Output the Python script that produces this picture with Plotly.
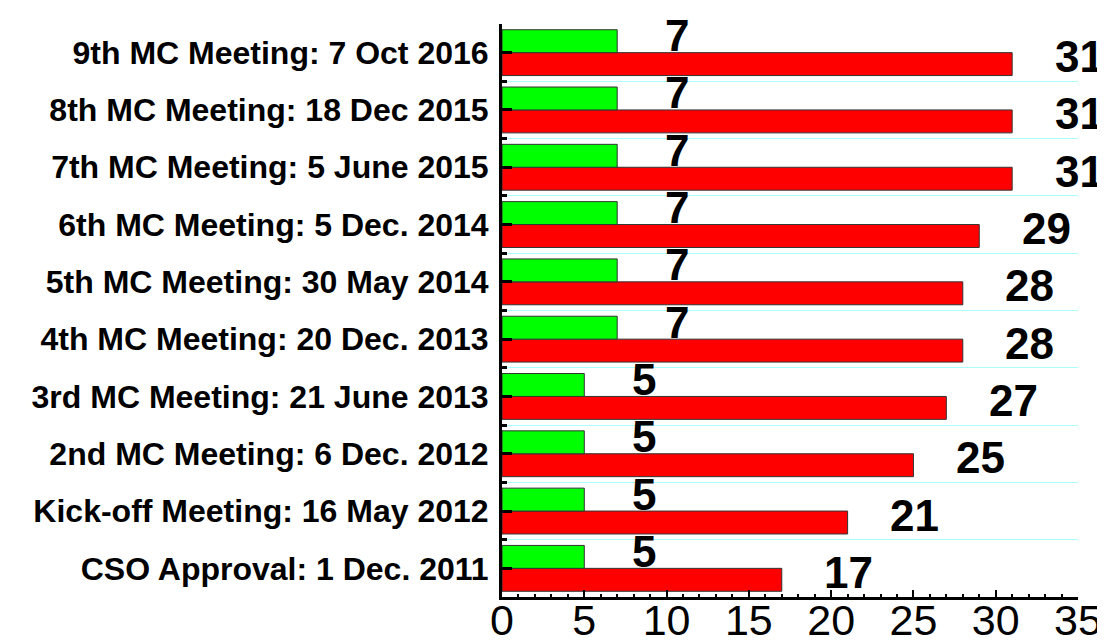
import plotly.graph_objects as go

# Data (bottom to top)
categories = [
    "CSO Approval: 1 Dec. 2011",
    "Kick-off Meeting: 16 May 2012",
    "2nd MC Meeting: 6 Dec. 2012",
    "3rd MC Meeting: 21 June 2013",
    "4th MC Meeting: 20 Dec. 2013",
    "5th MC Meeting: 30 May 2014",
    "6th MC Meeting: 5 Dec. 2014",
    "7th MC Meeting: 5 June 2015",
    "8th MC Meeting: 18 Dec 2015",
    "9th MC Meeting: 7 Oct 2016",
]
red_values = [17, 21, 25, 27, 28, 28, 29, 31, 31, 31]
green_values = [5, 5, 5, 5, 7, 7, 7, 7, 7, 7]
x_ticks = [0, 5, 10, 15, 20, 25, 30, 35]

idx = list(range(len(categories)))
boundaries = [i - 0.5 for i in range(len(categories) + 1)]

FONT = "Liberation Sans, Arial, sans-serif"

fig = go.Figure()
fig.add_trace(go.Bar(
    y=idx, x=red_values, orientation="h", name="red",
    marker=dict(color="#ff0000", line=dict(color="#333333", width=1)),
))
fig.add_trace(go.Bar(
    y=idx, x=green_values, orientation="h", name="green",
    marker=dict(color="#00ff00", line=dict(color="#333333", width=1)),
))

annotations = []
for i, v in enumerate(green_values):
    annotations.append(dict(x=v, y=i, xref="x", yref="y", text=str(v),
                            showarrow=False, xshift=60, yshift=17,
                            font=dict(family=FONT, size=44, color="black", weight="bold")))
for i, v in enumerate(red_values):
    annotations.append(dict(x=v, y=i, xref="x", yref="y", text=str(v),
                            showarrow=False, xshift=67, yshift=-4,
                            font=dict(family=FONT, size=44, color="black", weight="bold")))

fig.update_layout(
    width=1097, height=633,
    margin=dict(l=494, r=27, t=16, b=44, autoexpand=False),
    paper_bgcolor="white", plot_bgcolor="white",
    barmode="group", bargap=0.2, bargroupgap=0,
    showlegend=False,
    annotations=annotations,
    xaxis=dict(
        range=[0, 35], tickmode="array", tickvals=x_ticks,
        ticks="inside", ticklen=7, tickwidth=2, tickcolor="black",
        minor=dict(dtick=1, tick0=0, ticks="inside", ticklen=3, tickwidth=2, tickcolor="black", showgrid=False),
        showgrid=False, zeroline=False, automargin=False,
        showline=True, linewidth=3, linecolor="black",
        tickfont=dict(family=FONT, size=43, color="black"),
        ticklabelstandoff=-17,
    ),
    yaxis=dict(
        range=[-0.5, 9.5], tickmode="array", tickvals=idx, ticktext=categories,
        ticks="inside", ticklen=10, tickwidth=3, tickcolor="black",
        minor=dict(tickmode="array", tickvals=boundaries, ticks="inside", ticklen=5,
                   tickwidth=3, tickcolor="black", showgrid=True,
                   gridcolor="#aaffff", gridwidth=1),
        showgrid=False, zeroline=False, automargin=False,
        showline=True, linewidth=3, linecolor="black",
        tickfont=dict(family=FONT, size=32, color="black", weight="bold"),
        ticklabelstandoff=4,
    ),
)

fig.write_html("out.html")
